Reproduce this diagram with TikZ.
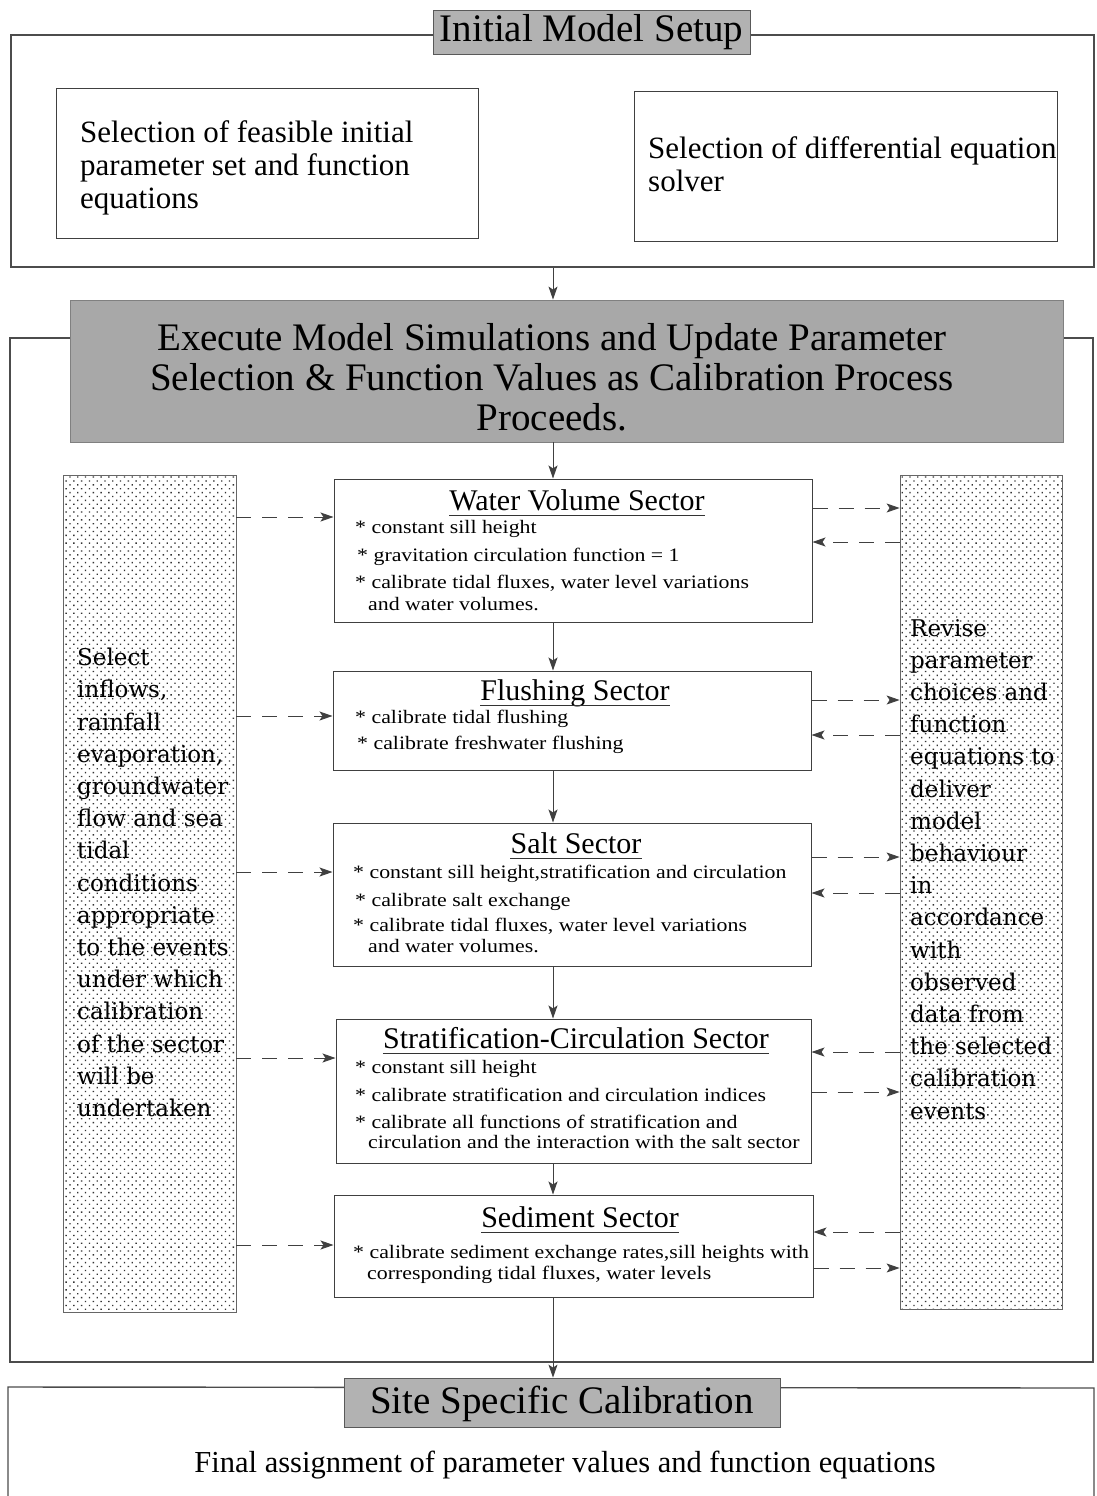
\documentclass[tikz,border=0pt]{standalone}
\usepackage{fontspec}
\setmainfont{Liberation Serif}
\newfontfamily\panelfont{DejaVu Serif}
\newfontfamily\itemfont[FakeStretch=1.15]{Liberation Serif}
\usetikzlibrary{arrows.meta,patterns.meta}
\tikzset{
  frame/.style={draw=black!70, line width=1.4pt, inner sep=0pt},
  sbox/.style={draw=black!75, line width=1pt, inner sep=0pt},
  ttlbox/.style={draw=black!65, line width=0.8pt, fill=black!30, inner sep=0pt},
  hdr/.style={draw=black!50, line width=0.8pt, fill=black!34, inner sep=0pt},
  panel/.style={draw=black!60, line width=0.8pt, inner sep=0pt,
    pattern={Dots[distance=5.5pt,angle=45,radius=0.95pt]}, pattern color=black!80},
  bigtxt/.style={font=\fontsize{39}{40}\selectfont, inner sep=0pt, align=center},
  midtxt/.style={font=\fontsize{31}{33}\selectfont, inner sep=0pt, align=left},
  stitle/.style={font=\fontsize{30}{34}\selectfont, inner sep=0pt, anchor=base},
  itemtxt/.style={font=\itemfont\fontsize{19}{22}\selectfont, inner sep=0pt, anchor=base west},
  ptxt/.style={font=\panelfont\fontsize{23}{32.2}\selectfont, inner sep=0pt, align=left, anchor=north west},
  flow/.style={-{Stealth[length=13pt,width=9pt,inset=3pt]}, line width=0.9pt, draw=black!75},
  dflow/.style={flow, dash pattern=on 15pt off 11pt},
  uline/.style={line width=1pt, draw=black!80}
}
\begin{document}
\begin{tikzpicture}[x=1pt,y=-1pt]
\useasboundingbox (0,0) rectangle (1096,1496);
\fill[white] (0,0) rectangle (1096,1496);

% ---------- Initial model setup ----------
\node[frame, minimum width=1083pt, minimum height=232pt] (topframe) at (552.5,151) {};
\node[ttlbox, minimum width=317pt, minimum height=44pt] (ttl1) at (591.5,32) {};
\node[bigtxt] (ttl1t) at (591.5,32) {Initial Model Setup};
\node[sbox, minimum width=422pt, minimum height=150pt] (selA) at (267,163) {};
\node[midtxt, anchor=west] (selAt) at (80,168) {Selection of feasible initial\\parameter set and function\\equations};
\node[sbox, minimum width=423pt, minimum height=150pt] (selB) at (846,166) {};
\node[midtxt, anchor=west] (selBt) at (648,164) {Selection of differential equation\\solver};

% ---------- Calibration frame ----------
\node[frame, minimum width=1083pt, minimum height=1024pt] (midframe) at (551.5,850) {};
\node[hdr, minimum width=993pt, minimum height=142pt] (header) at (566.5,371) {};
\node[bigtxt] (headert) at (552,377) {Execute Model Simulations and Update Parameter\\Selection \& Function Values as Calibration Process\\Proceeds.};

% side panels
\node[panel, minimum width=173pt, minimum height=837pt] (leftp) at (149.5,893.5) {};
\node[ptxt] (leftt) at (77,648) {Select\\inflows,\\rainfall\\evaporation,\\groundwater\\flow and sea\\tidal\\conditions\\appropriate\\to the events\\under which\\calibration\\of the sector\\will be\\undertaken};
\node[panel, minimum width=162pt, minimum height=834pt] (rightp) at (981,892) {};
\node[ptxt] (rightt) at (910,619) {Revise\\parameter\\choices and\\function\\equations to\\deliver\\model\\behaviour\\in\\accordance\\with\\observed\\data from\\the selected\\calibration\\events};

% sector boxes
\node[sbox, minimum width=478pt, minimum height=143pt] (water) at (573,550.5) {};
\node[sbox, minimum width=478pt, minimum height=99pt] (flush) at (572,720.5) {};
\node[sbox, minimum width=478pt, minimum height=143pt] (salt) at (572,894.5) {};
\node[sbox, minimum width=475pt, minimum height=144pt] (strat) at (573.5,1091) {};
\node[sbox, minimum width=479pt, minimum height=102pt] (sed) at (573.5,1246) {};

% titles
\node[stitle] (wt) at (577,510) {Water Volume Sector};
\node[stitle] (ft) at (575,700) {Flushing Sector};
\node[stitle] (st) at (576,853) {Salt Sector};
\node[stitle] (ct) at (576,1048) {Stratification-Circulation Sector};
\node[stitle] (dt) at (580,1227) {Sediment Sector};
\foreach \t in {wt,ft,st,ct,dt}
  \draw[uline] ([yshift=-5pt]\t.base west) -- ([yshift=-5pt]\t.base east);

% items
\node[itemtxt] (w1) at (355,533) {* constant sill height};
\node[itemtxt] (w2) at (357,561) {* gravitation circulation function = 1};
\node[itemtxt] (w3) at (355,588) {* calibrate tidal fluxes, water level variations};
\node[itemtxt] (w4) at (368,610) {and water volumes.};
\node[itemtxt] (f1) at (355,723) {* calibrate tidal flushing};
\node[itemtxt] (f2) at (357,749) {* calibrate freshwater flushing};
\node[itemtxt] (s1) at (353,878) {* constant sill height,stratification and circulation};
\node[itemtxt] (s2) at (355,906) {* calibrate salt exchange};
\node[itemtxt] (s3) at (353,931) {* calibrate tidal fluxes, water level variations};
\node[itemtxt] (s4) at (368,952) {and water volumes.};
\node[itemtxt] (c1) at (355,1073) {* constant sill height};
\node[itemtxt] (c2) at (355,1101) {* calibrate stratification and circulation indices};
\node[itemtxt] (c3) at (355,1128) {* calibrate all functions of stratification and};
\node[itemtxt] (c4) at (368,1148) {circulation and the interaction with the salt sector};
\node[itemtxt] (d1) at (353,1258) {* calibrate sediment exchange rates,sill heights with};
\node[itemtxt] (d2) at (367,1279) {corresponding tidal fluxes, water levels};

% ---------- Site specific calibration ----------
\draw[draw=black!70, line width=1.4pt] (8,1500) -- (8,1387) -- (1094,1388) -- (1094,1500);
\node[ttlbox, minimum width=436pt, minimum height=49pt] (site) at (562,1402.5) {};
\node[bigtxt] (sitet) at (562,1404) {Site Specific Calibration};
\node[font=\fontsize{30.5}{34}\selectfont, inner sep=0pt] (final) at (565,1465) {Final assignment of parameter values and function equations};

% ---------- main flow ----------
\draw[flow] (553,0 |- topframe.south) -- (553,0 |- header.north);
\draw[flow] (553,0 |- header.south) -- (553,0 |- water.north);
\draw[flow] (553,0 |- water.south) -- (553,0 |- flush.north);
\draw[flow] (553,0 |- flush.south) -- (553,0 |- salt.north);
\draw[flow] (553,0 |- salt.south) -- (553,0 |- strat.north);
\draw[flow] (553,0 |- strat.south) -- (553,0 |- sed.north);
\draw[flow] (553,0 |- sed.south) -- (553,0 |- site.north);

% left dashed inputs
\draw[dflow] (leftp.east |- 0,517) -- (water.west |- 0,517);
\draw[dflow] (leftp.east |- 0,716) -- (flush.west |- 0,716);
\draw[dflow] (leftp.east |- 0,872) -- (salt.west |- 0,872);
\draw[dflow] (leftp.east |- 0,1058) -- (strat.west |- 0,1058);
\draw[dflow] (leftp.east |- 0,1245) -- (sed.west |- 0,1245);

% right dashed exchanges
\draw[dflow] (water.east |- 0,508) -- (rightp.west |- 0,508);
\draw[dflow] (rightp.west |- 0,542) -- (water.east |- 0,542);
\draw[dflow] (flush.east |- 0,700) -- (rightp.west |- 0,700);
\draw[dflow] (rightp.west |- 0,735) -- (flush.east |- 0,735);
\draw[dflow] (salt.east |- 0,857) -- (rightp.west |- 0,857);
\draw[dflow] (rightp.west |- 0,893) -- (salt.east |- 0,893);
\draw[dflow] (rightp.west |- 0,1052) -- (strat.east |- 0,1052);
\draw[dflow] (strat.east |- 0,1092) -- (rightp.west |- 0,1092);
\draw[dflow] (rightp.west |- 0,1232) -- (sed.east |- 0,1232);
\draw[dflow] (sed.east |- 0,1268) -- (rightp.west |- 0,1268);
\end{tikzpicture}
\end{document}
